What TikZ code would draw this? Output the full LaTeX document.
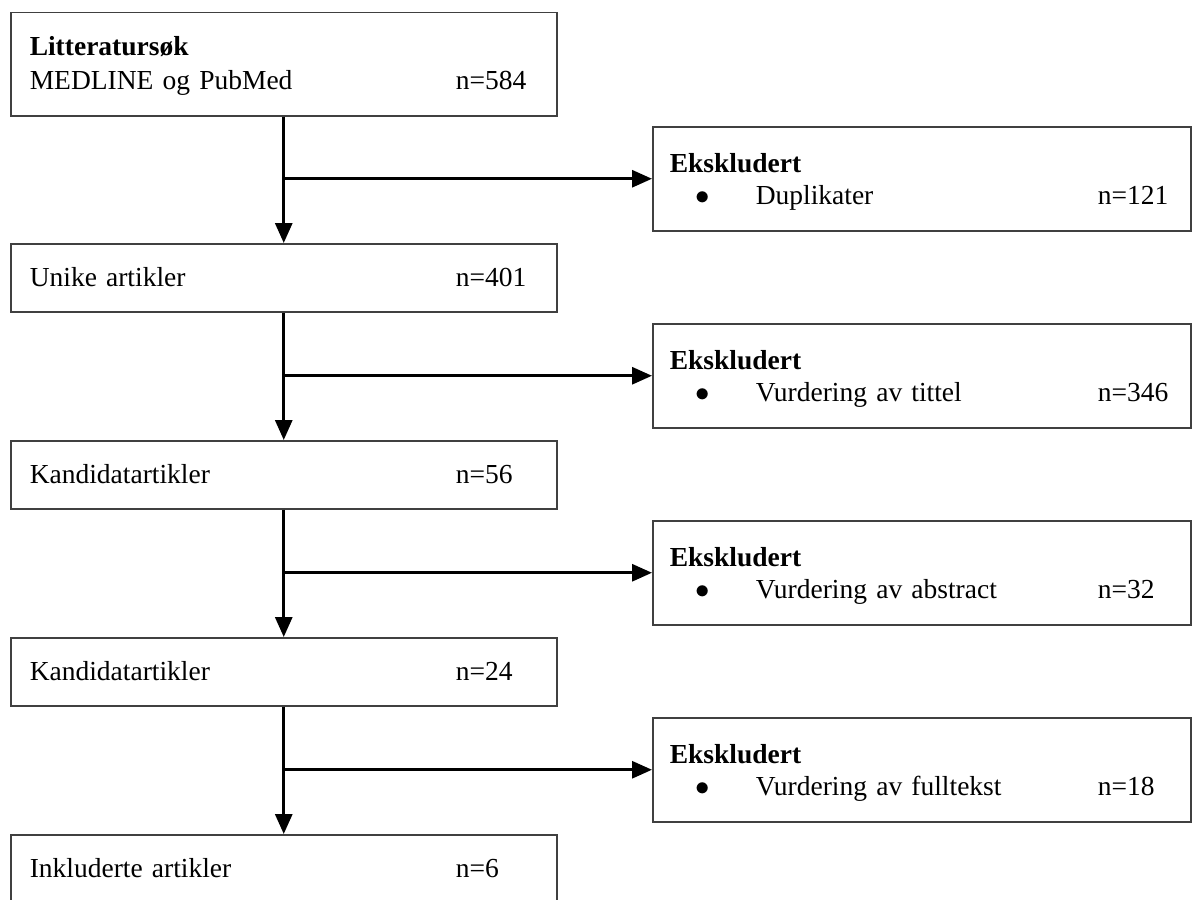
\documentclass[tikz,border=0pt]{standalone}
\usepackage{fontspec}
\setmainfont{Liberation Serif}
\usetikzlibrary{arrows.meta}

\newcommand{\nrow}[2]{\makebox[213pt][l]{#1}#2}
\newcommand{\bulletrow}[2]{\makebox[43pt][l]{\hspace{13pt}$\bullet$}\makebox[171pt][l]{#1}#2}

\begin{document}
\begin{tikzpicture}[x=0.5pt, y=-0.5pt,
    leftbox/.style={draw=black!75, line width=0.75pt, anchor=north west,
        font=\fontsize{13.75}{17}\selectfont, text width=254pt,
        inner xsep=9.5pt, inner ysep=0pt, align=left,
        text height=10pt, text depth=1pt, minimum height=34pt},
    rightbox/.style={draw=black!75, line width=0.75pt, anchor=north west,
        font=\fontsize{13.75}{16}\selectfont, text width=252pt,
        inner xsep=8.5pt, inner ysep=0pt, align=left,
        text height=10pt, text depth=16pt, minimum height=52pt},
    flow/.style={-{Triangle[length=10pt, width=8.5pt]}, line width=1.5pt}]
    \useasboundingbox (0,0) rectangle (1192,899);

    % main column
    \node[leftbox, minimum height=51.5pt, text depth=18.5pt] (lit) at (10,12)
        {\textbf{Litteratursøk}\\\nrow{MEDLINE og PubMed}{n=584}};
    \node[leftbox] (unike) at (10,243) {\nrow{Unike artikler}{n=401}};
    \node[leftbox] (kand1) at (10,440) {\nrow{Kandidatartikler}{n=56}};
    \node[leftbox] (kand2) at (10,637) {\nrow{Kandidatartikler}{n=24}};
    \node[leftbox] (inkl) at (10,834) {\nrow{Inkluderte artikler}{n=6}};

    % excluded
    \node[rightbox] (eks1) at (652,126)
        {\textbf{Ekskludert}\\\bulletrow{Duplikater}{n=121}};
    \node[rightbox] (eks2) at (652,323)
        {\textbf{Ekskludert}\\\bulletrow{Vurdering av tittel}{n=346}};
    \node[rightbox] (eks3) at (652,520)
        {\textbf{Ekskludert}\\\bulletrow{Vurdering av abstract}{n=32}};
    \node[rightbox] (eks4) at (652,717)
        {\textbf{Ekskludert}\\\bulletrow{Vurdering av fulltekst}{n=18}};

    \draw[flow] (lit.south) -- (unike.north);
    \draw[flow] (unike.south) -- (kand1.north);
    \draw[flow] (kand1.south) -- (kand2.north);
    \draw[flow] (kand2.south) -- (inkl.north);

    \draw[flow] (lit.south |- eks1.west) -- (eks1.west);
    \draw[flow] (unike.south |- eks2.west) -- (eks2.west);
    \draw[flow] (kand1.south |- eks3.west) -- (eks3.west);
    \draw[flow] (kand2.south |- eks4.west) -- (eks4.west);
\end{tikzpicture}
\end{document}
